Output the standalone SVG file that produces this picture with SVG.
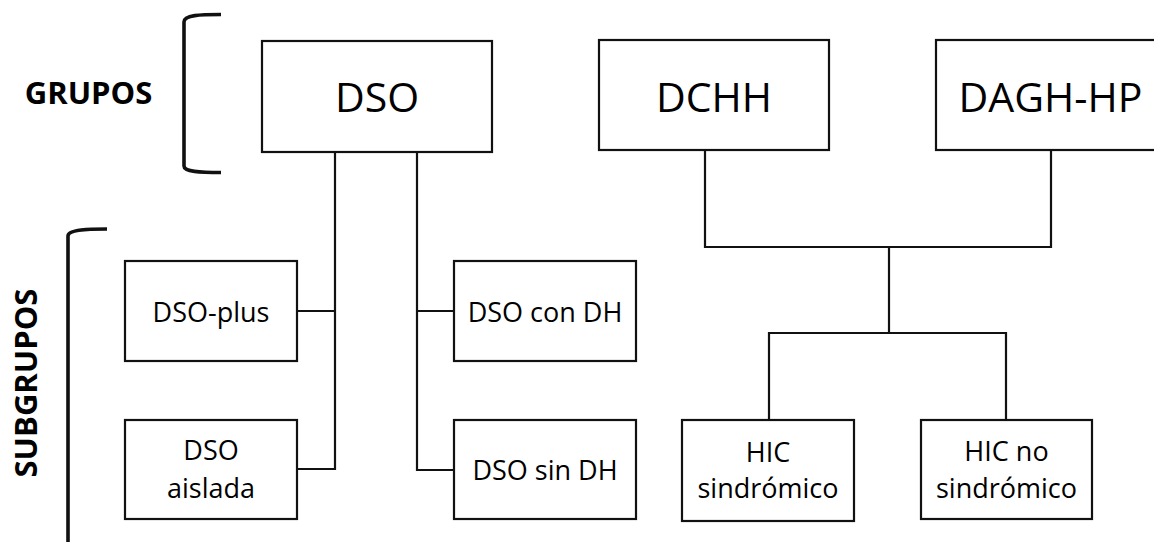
<svg xmlns="http://www.w3.org/2000/svg" width="1154" height="542" viewBox="0 0 1154 542">
  <style>
    .box { fill: #ffffff; stroke: #111111; stroke-width: 2.2; }
    .conn { fill: none; stroke: #111111; stroke-width: 2.2; }
    .bracket { fill: none; stroke: #111111; stroke-width: 3.6; }
    .big { font-family: "Open Sans", "Liberation Sans", sans-serif; font-size: 41px; fill: #000000; text-anchor: middle; }
    .small { font-family: "Open Sans", "Liberation Sans", sans-serif; font-size: 27px; fill: #000000; text-anchor: middle; }
    .label { font-family: "Open Sans", "Liberation Sans", sans-serif; font-size: 31px; font-weight: bold; fill: #000000; text-anchor: middle; }
  </style>
  <rect width="1154" height="542" fill="#ffffff"/>

  <g id="labels">
    <text class="label" x="88.5" y="104">GRUPOS</text>
    <text class="label" transform="translate(37,383) rotate(-90)" x="0" y="0">SUBGRUPOS</text>
    <path class="bracket" d="M221,14.5 C200,14.5 184,15 184,22 L184,166 C184,172 200,172.5 221,172.5"/>
    <path class="bracket" d="M107,229 C90,229 68,229.5 68,236 L68,548"/>
  </g>

  <g id="connectors">
    <path class="conn" d="M335,152 L335,469 L297,469"/>
    <path class="conn" d="M297,311 L335,311"/>
    <path class="conn" d="M417,152 L417,470 L454,470"/>
    <path class="conn" d="M417,311 L454,311"/>
    <path class="conn" d="M705,150 L705,247 L1051,247 L1051,150"/>
    <path class="conn" d="M889,247 L889,333"/>
    <path class="conn" d="M769,420 L769,333 L1006,333 L1006,420"/>
  </g>

  <g id="node-dso">
    <rect class="box" x="262" y="41" width="230" height="111"/>
    <text class="big" x="377" y="112">DSO</text>
  </g>
  <g id="node-dchh">
    <rect class="box" x="599" y="40" width="230" height="110"/>
    <text class="big" x="714" y="112">DCHH</text>
  </g>
  <g id="node-dagh-hp">
    <rect class="box" x="936" y="40" width="240" height="110"/>
    <text class="big" x="1050.5" y="112">DAGH-HP</text>
  </g>
  <g id="node-dso-plus">
    <rect class="box" x="125" y="261" width="172" height="100"/>
    <text class="small" x="211" y="322">DSO-plus</text>
  </g>
  <g id="node-dso-aislada">
    <rect class="box" x="125" y="420" width="172" height="99"/>
    <text class="small" x="211" y="460">DSO</text>
    <text class="small" x="211" y="498">aislada</text>
  </g>
  <g id="node-dso-con-dh">
    <rect class="box" x="454" y="261" width="182" height="100"/>
    <text class="small" x="545" y="322">DSO con DH</text>
  </g>
  <g id="node-dso-sin-dh">
    <rect class="box" x="454" y="420" width="182" height="99"/>
    <text class="small" x="545" y="480">DSO sin DH</text>
  </g>
  <g id="node-hic-sindromico">
    <rect class="box" x="682" y="420" width="172" height="101"/>
    <text class="small" x="768" y="462">HIC</text>
    <text class="small" x="768" y="498">sindrómico</text>
  </g>
  <g id="node-hic-no-sindromico">
    <rect class="box" x="921" y="420" width="171" height="99"/>
    <text class="small" x="1006.5" y="461">HIC no</text>
    <text class="small" x="1006.5" y="498">sindrómico</text>
  </g>
</svg>
